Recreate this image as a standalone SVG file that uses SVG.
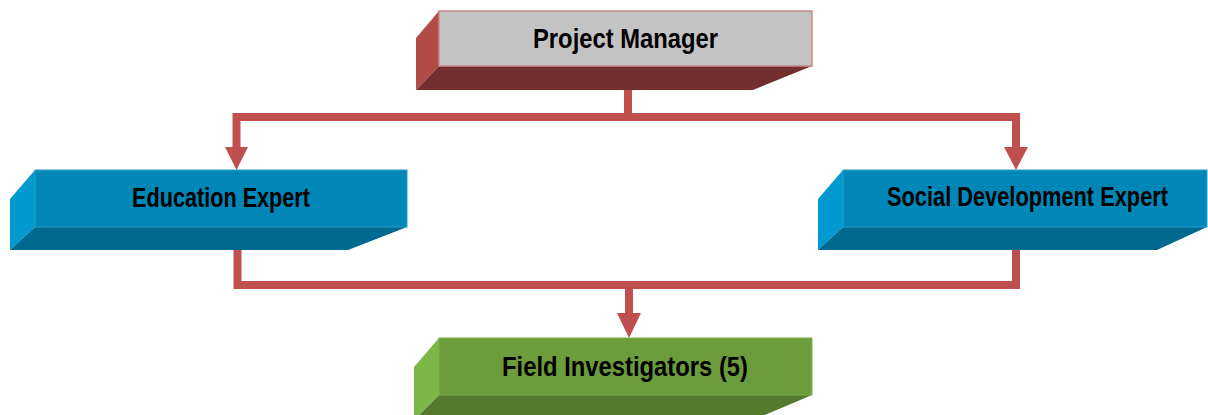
<svg xmlns="http://www.w3.org/2000/svg" width="1208" height="415" viewBox="0 0 1208 415">
<style>
.lbl{font-family:"Liberation Sans",Arial,sans-serif;font-weight:bold;font-size:28px;fill:#000;text-anchor:middle}
.conn{fill:none;stroke:#C0504D;stroke-width:8}
.head{fill:#C0504D}
.redL{fill:#B14B46}.redB{fill:#722F2F}.redF{fill:#C3C3C3;stroke:#C98A8A;stroke-width:1.5}
.bluL{fill:#009AD0}.bluB{fill:#006990}.bluF{fill:#0087B8;stroke:#2AA0C8;stroke-width:1}
.grnL{fill:#7CB747}.grnB{fill:#557A2E}.grnF{fill:#6C9C3C;stroke:#7FB050;stroke-width:1}
</style>
<rect width="1208" height="415" fill="#fff"/>
<g id="connectors">
<path class="conn" d="M628,66 V117"/>
<path class="conn" d="M236.5,148 V117 H1016 V148"/>
<polygon class="head" points="225,147 248,147 236.5,170"/>
<polygon class="head" points="1004,147 1028,147 1016,170"/>
<path class="conn" d="M237.5,227 V285 H1016 V227"/>
<path class="conn" d="M629,285 V314"/>
<polygon class="head" points="617,313 641,313 629,338"/>
</g>
<g id="project-manager">
<polygon class="redL" points="439,11 416,38 416,90 439,66"/>
<polygon class="redB" points="416,90 439,66 812,66 753,90"/>
<rect class="redF" x="439" y="11" width="373" height="55"/>
<text class="lbl" transform="translate(625.5,48) scale(0.82,1)" textLength="225.6" lengthAdjust="spacingAndGlyphs">Project Manager</text>
</g>
<g id="education-expert">
<polygon class="bluL" points="35,170 10,199 10,250 35,227"/>
<polygon class="bluB" points="10,250 35,227 407,227 348,250"/>
<rect class="bluF" x="35" y="170" width="372" height="57"/>
<text class="lbl" transform="translate(221,207) scale(0.82,1)" textLength="217" lengthAdjust="spacingAndGlyphs">Education Expert</text>
</g>
<g id="social-development-expert">
<polygon class="bluL" points="843,170 818,199 818,250 843,227"/>
<polygon class="bluB" points="818,250 843,227 1207,227 1157,250"/>
<rect class="bluF" x="843" y="170" width="364" height="57"/>
<text class="lbl" transform="translate(1027.5,206) scale(0.82,1)" textLength="342.7" lengthAdjust="spacingAndGlyphs">Social Development Expert</text>
</g>
<g id="field-investigators">
<polygon class="grnL" points="439,338 414,367 414,420 439,395"/>
<polygon class="grnB" points="414,420 439,395 812,395 753,420"/>
<rect class="grnF" x="439" y="338" width="373" height="57"/>
<text class="lbl" transform="translate(625,376) scale(0.82,1)" textLength="300" lengthAdjust="spacingAndGlyphs">Field Investigators (5)</text>
</g>
</svg>
